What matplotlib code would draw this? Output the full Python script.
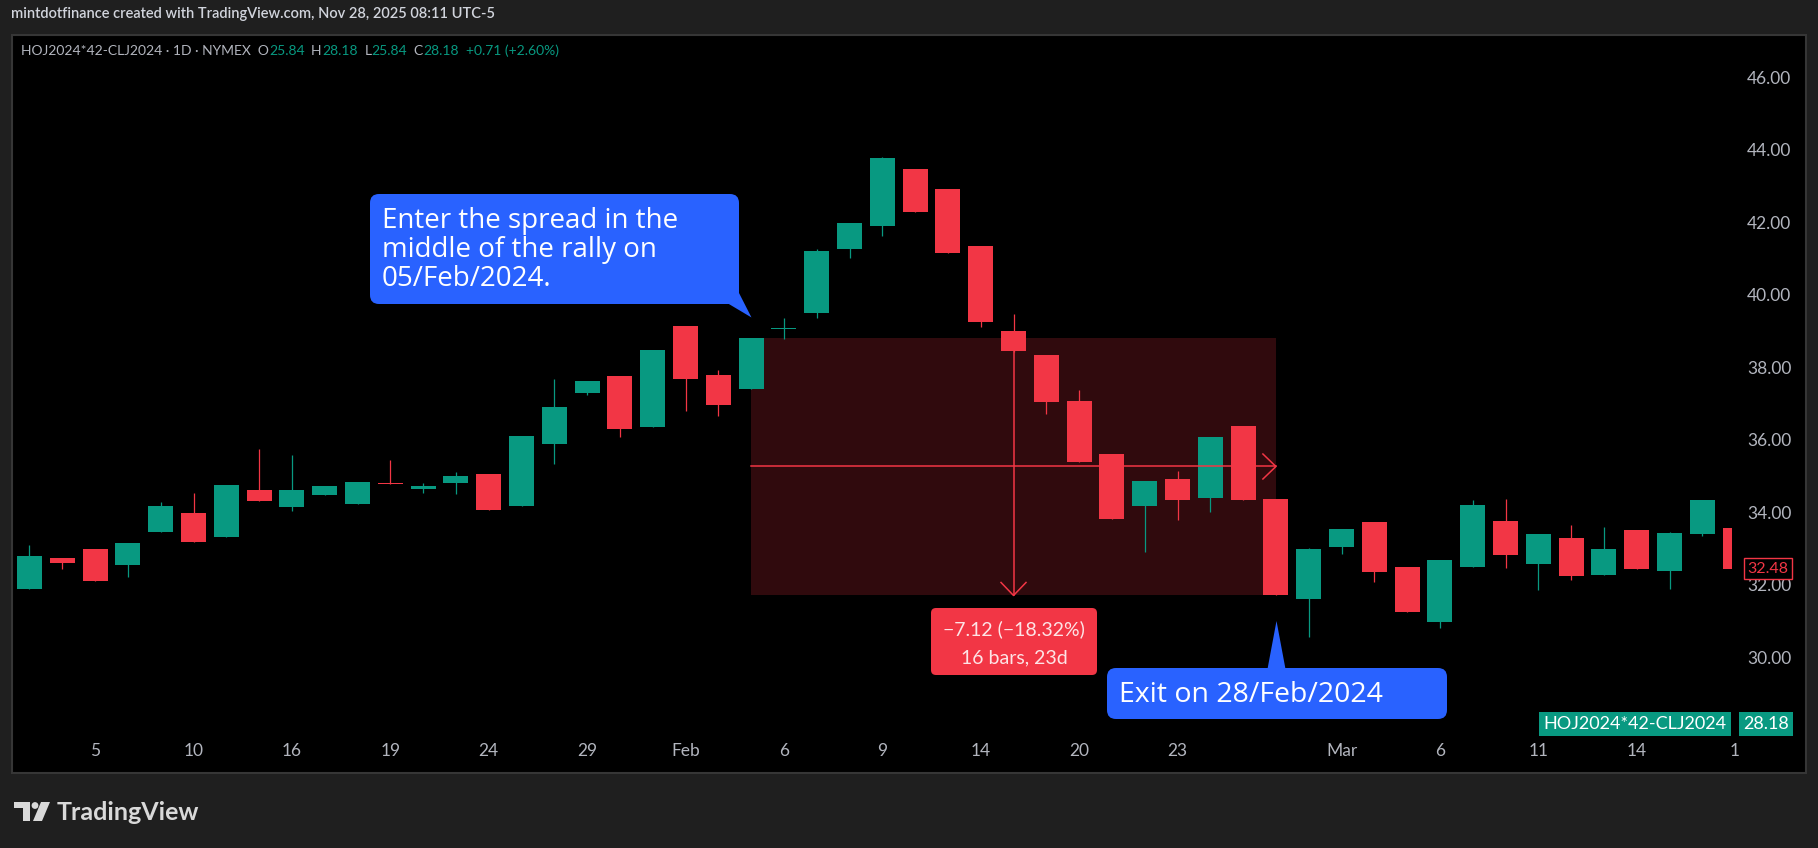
import matplotlib
matplotlib.use("Agg")
import matplotlib.pyplot as plt
import matplotlib.transforms as mtransforms
from matplotlib.patches import Rectangle, FancyBboxPatch, Polygon, Circle

W, H = 1818, 848
BG = "#1f1f1f"
BORDER = "#363636"
UP = "#089981"
DOWN = "#F23645"
BLUE = "#2962FF"
AXIS_TXT = "#b2b5be"
FONT = ["Lato", "DejaVu Sans"]
NOTE_FONT = ["Open Sans", "DejaVu Sans"]

# ── data (daily OHLC, 3 Jan – 19 Mar 2024) ────────────────────────────────────
opens = [31.92, 32.78, 33.02, 32.58, 33.49, 34.02, 33.35, 34.65, 34.18, 34.51,
         34.26, 34.84, 34.69, 34.84, 35.09, 34.21, 35.92, 37.34, 37.80, 36.40,
         39.18, 37.82, 37.45, 39.09, 39.54, 41.31, 41.95, 43.51, 42.96, 41.39,
         39.04, 38.38, 37.11, 35.64, 34.22, 34.95, 34.44, 36.42, 34.40, 31.64,
         33.09, 33.77, 32.53, 31.02, 32.53, 33.79, 32.62, 33.33, 32.31, 33.55,
         32.42, 33.44, 33.60]
highs = [33.13, 32.78, 33.02, 33.19, 34.32, 34.57, 34.79, 35.78, 35.61, 34.76,
         34.87, 35.48, 34.84, 35.15, 35.09, 36.14, 37.71, 37.66, 37.80, 38.51,
         39.18, 37.96, 38.86, 39.40, 41.29, 42.02, 43.85, 43.51, 42.96, 41.39,
         39.51, 38.38, 37.41, 35.64, 34.90, 35.17, 36.11, 36.42, 34.40, 33.05,
         33.57, 33.77, 32.53, 32.72, 34.37, 34.40, 33.44, 33.68, 33.63, 33.55,
         33.49, 34.37, 33.60]
lows = [31.92, 32.48, 32.14, 32.25, 33.49, 33.22, 33.35, 34.35, 34.07, 34.51,
        34.26, 34.82, 34.57, 34.54, 34.10, 34.21, 35.37, 37.27, 36.12, 36.40,
        36.84, 36.69, 37.45, 38.82, 39.41, 41.06, 41.66, 42.33, 41.20, 39.16,
        38.45, 36.76, 35.43, 33.86, 32.95, 33.83, 34.05, 34.38, 31.74, 30.60,
        32.89, 32.12, 31.29, 30.83, 32.53, 32.51, 31.90, 32.17, 32.31, 32.48,
        31.93, 33.39, 32.48]
closes = [32.83, 32.63, 32.14, 33.19, 34.21, 33.22, 34.79, 34.35, 34.65, 34.76,
          34.87, 34.82, 34.76, 35.04, 34.10, 36.14, 36.94, 37.66, 36.34, 38.51,
          37.72, 36.99, 38.86, 39.13, 41.25, 42.02, 43.81, 42.33, 41.20, 39.30,
          38.50, 37.09, 35.43, 33.86, 34.90, 34.38, 36.11, 34.38, 31.74, 33.02,
          33.57, 32.40, 31.29, 32.72, 34.24, 32.87, 33.44, 32.29, 33.02, 32.48,
          33.46, 34.37, 32.48]

date_tick_idx = [2, 5, 8, 11, 14, 17, 20, 23, 26, 29, 32, 35, 40, 43, 46, 49, 52]
date_tick_labels = ["5", "10", "16", "19", "24", "29", "Feb", "6", "9", "14",
                    "20", "23", "Mar", "6", "11", "14", "1"]
price_ticks = [30, 32, 34, 36, 38, 40, 42, 44, 46]

entry_idx, exit_idx = 22, 38
span_days = 23
last_price = 32.48
symbol = "HOJ2024*42-CLJ2024"
symbol_price = 28.18

enter_lines = ["Enter the spread in the", "middle of the rally on", "05/Feb/2024."]
exit_text = "Exit on 28/Feb/2024"
header = "mintdotfinance created with TradingView.com, Nov 28, 2025 08:11 UTC-5"
legend_parts = [(f"{symbol} \u00b7 1D \u00b7 NYMEX  O", AXIS_TXT), ("25.84", UP),
                ("  H", AXIS_TXT), ("28.18", UP), ("  L", AXIS_TXT), ("25.84", UP),
                ("  C", AXIS_TXT), ("28.18", UP), ("  +0.71 (+2.60%)", UP)]

# ── figure / axes ─────────────────────────────────────────────────────────────
fig = plt.figure(figsize=(W / 100, H / 100), dpi=100, facecolor=BG)
# pixel coords, origin top-left
px = mtransforms.Affine2D().scale(1 / W, -1 / H).translate(0, 1) + fig.transFigure


def frac(x0, y0, x1, y1):
    return [x0 / W, 1 - y1 / H, (x1 - x0) / W, (y1 - y0) / H]


panel = fig.add_axes(frac(12, 35, 1806, 773), facecolor="black")
panel.set_xticks([])
panel.set_yticks([])
for s in panel.spines.values():
    s.set_color(BORDER)
    s.set_linewidth(1.5)

ax = fig.add_axes(frac(12, 35, 1732, 773))
ax.set_facecolor("none")
ax.axis("off")
ax.set_xlim(-0.5335, 51.905)
ax.set_ylim(26.84, 47.21)

# one pixel in data units
dx = 1 / 32.8
dy = 1 / 36.23

# ── measure box ───────────────────────────────────────────────────────────────
top, bot = closes[entry_idx], closes[exit_idx]
mid = (top + bot) / 2
ax.add_patch(Rectangle((entry_idx, bot), exit_idx - entry_idx, top - bot,
                       facecolor=DOWN, alpha=0.2, lw=0, zorder=1))
ax.plot([entry_idx, exit_idx], [mid, mid], color=DOWN, lw=1.1, zorder=4)
ax.plot([exit_idx - 13 * dx, exit_idx, exit_idx - 13 * dx],
        [mid + 12.5 * dy, mid, mid - 12.5 * dy], color=DOWN, lw=1.1, zorder=4)
mx = (entry_idx + exit_idx) / 2
ax.plot([mx, mx], [top, bot], color=DOWN, lw=1.1, zorder=4)
ax.plot([mx - 12.5 * dx, mx, mx + 12.5 * dx],
        [bot + 13 * dy, bot, bot + 13 * dy], color=DOWN, lw=1.1, zorder=4)

# ── candles ───────────────────────────────────────────────────────────────────
for i, (o, h, l, c) in enumerate(zip(opens, highs, lows, closes)):
    col = UP if c >= o else DOWN
    ax.vlines(i, l, h, color=col, lw=0.9, zorder=3)
    body = max(abs(c - o), 1.2 * dy)
    ax.add_patch(Rectangle((i - 0.38, min(o, c)), 0.76, body,
                           facecolor=col, lw=0, zorder=3))

# ── axis labels ───────────────────────────────────────────────────────────────
ytr = mtransforms.blended_transform_factory(px, ax.transData)
for p in price_ticks:
    fig.text(1769, p, f"{p:.2f}", transform=ytr, ha="center", va="center",
             color=AXIS_TXT, fontsize=12.5, family=FONT)

xtr = mtransforms.blended_transform_factory(ax.transData, px)
for i, lab in zip(date_tick_idx, date_tick_labels):
    fig.text(i, 751, lab, transform=xtr, ha="center", va="center",
             color=AXIS_TXT, fontsize=12.5, family=FONT)

fig.text(1768, last_price, f"{last_price:.2f}", transform=ytr,
         ha="center", va="center", color=DOWN, fontsize=11.5, family=FONT,
         bbox=dict(boxstyle="square,pad=0.22", fc="black", ec=DOWN, lw=1))

fig.text(1635, symbol_price, symbol, transform=ytr, ha="center", va="center",
         color="white", fontsize=13, family=FONT,
         bbox=dict(boxstyle="square,pad=0.22", fc=UP, ec="none"))
fig.text(1766, symbol_price, f"{symbol_price:.2f}", transform=ytr, ha="center",
         va="center", color="white", fontsize=13, family=FONT,
         bbox=dict(boxstyle="square,pad=0.22", fc=UP, ec="none"))

# ── measure label ─────────────────────────────────────────────────────────────
chg = bot - top
pct = chg / top * 100
fig.add_artist(FancyBboxPatch((931, 608), 166, 67, transform=px,
                              boxstyle="round,pad=0,rounding_size=5",
                              fc=DOWN, ec="none"))
fig.text(1014, 629, f"\u2212{abs(chg):.2f} (\u2212{abs(pct):.2f}%)", transform=px,
         ha="center", va="center", color="#fde4e6", fontsize=14, family=FONT)
fig.text(1014, 658, f"{exit_idx - entry_idx} bars, {span_days}d", transform=px,
         ha="center", va="center", color="#fde4e6", fontsize=14, family=FONT)

# ── callouts ──────────────────────────────────────────────────────────────────
fig.add_artist(FancyBboxPatch((370, 194), 369, 110, transform=px,
                              boxstyle="round,pad=0,rounding_size=9",
                              fc=BLUE, ec="none"))
fig.add_artist(Polygon([(728, 303.5), (751.5, 317.5), (738.5, 292)],
                       closed=True, transform=px, fc=BLUE, ec="none"))
for k, line in enumerate(enter_lines):
    fig.text(382, 228 + 29 * k, line, transform=px, ha="left", va="baseline",
             color="white", fontsize=20, family=NOTE_FONT)

fig.add_artist(FancyBboxPatch((1107, 668), 340, 51, transform=px,
                              boxstyle="round,pad=0,rounding_size=9",
                              fc=BLUE, ec="none"))
fig.add_artist(Polygon([(1267.5, 669), (1276.5, 621), (1285.5, 669)],
                       closed=True, transform=px, fc=BLUE, ec="none"))
fig.text(1119, 702, exit_text, transform=px, ha="left", va="baseline",
         color="white", fontsize=20.5, family=NOTE_FONT)

# ── header / legend ───────────────────────────────────────────────────────────
fig.text(11, 14, header, transform=px, ha="left", va="center", color="#d1d4dc",
         fontsize=10.5, family=FONT, fontweight="semibold")

anchor = fig.text(21, 51, legend_parts[0][0], transform=px, ha="left",
                  va="center", color=legend_parts[0][1], fontsize=10, family=FONT)
for txt, col in legend_parts[1:]:
    anchor = ax.annotate(txt, xy=(1, 0.5), xycoords=anchor, ha="left",
                         va="center", color=col, fontsize=10, family=FONT,
                         annotation_clip=False)

# ── TradingView logo ──────────────────────────────────────────────────────────
LOGO = "#d9d9d9"
fig.add_artist(Rectangle((14, 802), 16, 6, transform=px, fc=LOGO, ec="none"))
fig.add_artist(Rectangle((23, 802), 7, 19, transform=px, fc=LOGO, ec="none"))
fig.add_artist(Circle((35, 805.5), 3.4, transform=px, fc=LOGO, ec="none"))
fig.add_artist(Polygon([(41, 802), (50, 802), (42, 821), (33, 821)],
                       closed=True, transform=px, fc=LOGO, ec="none"))
fig.text(57, 812, "TradingView", transform=px, ha="left", va="center",
         color=LOGO, fontsize=18, family=FONT, fontweight="bold")

fig.savefig("out.png", dpi=100, facecolor=BG)
